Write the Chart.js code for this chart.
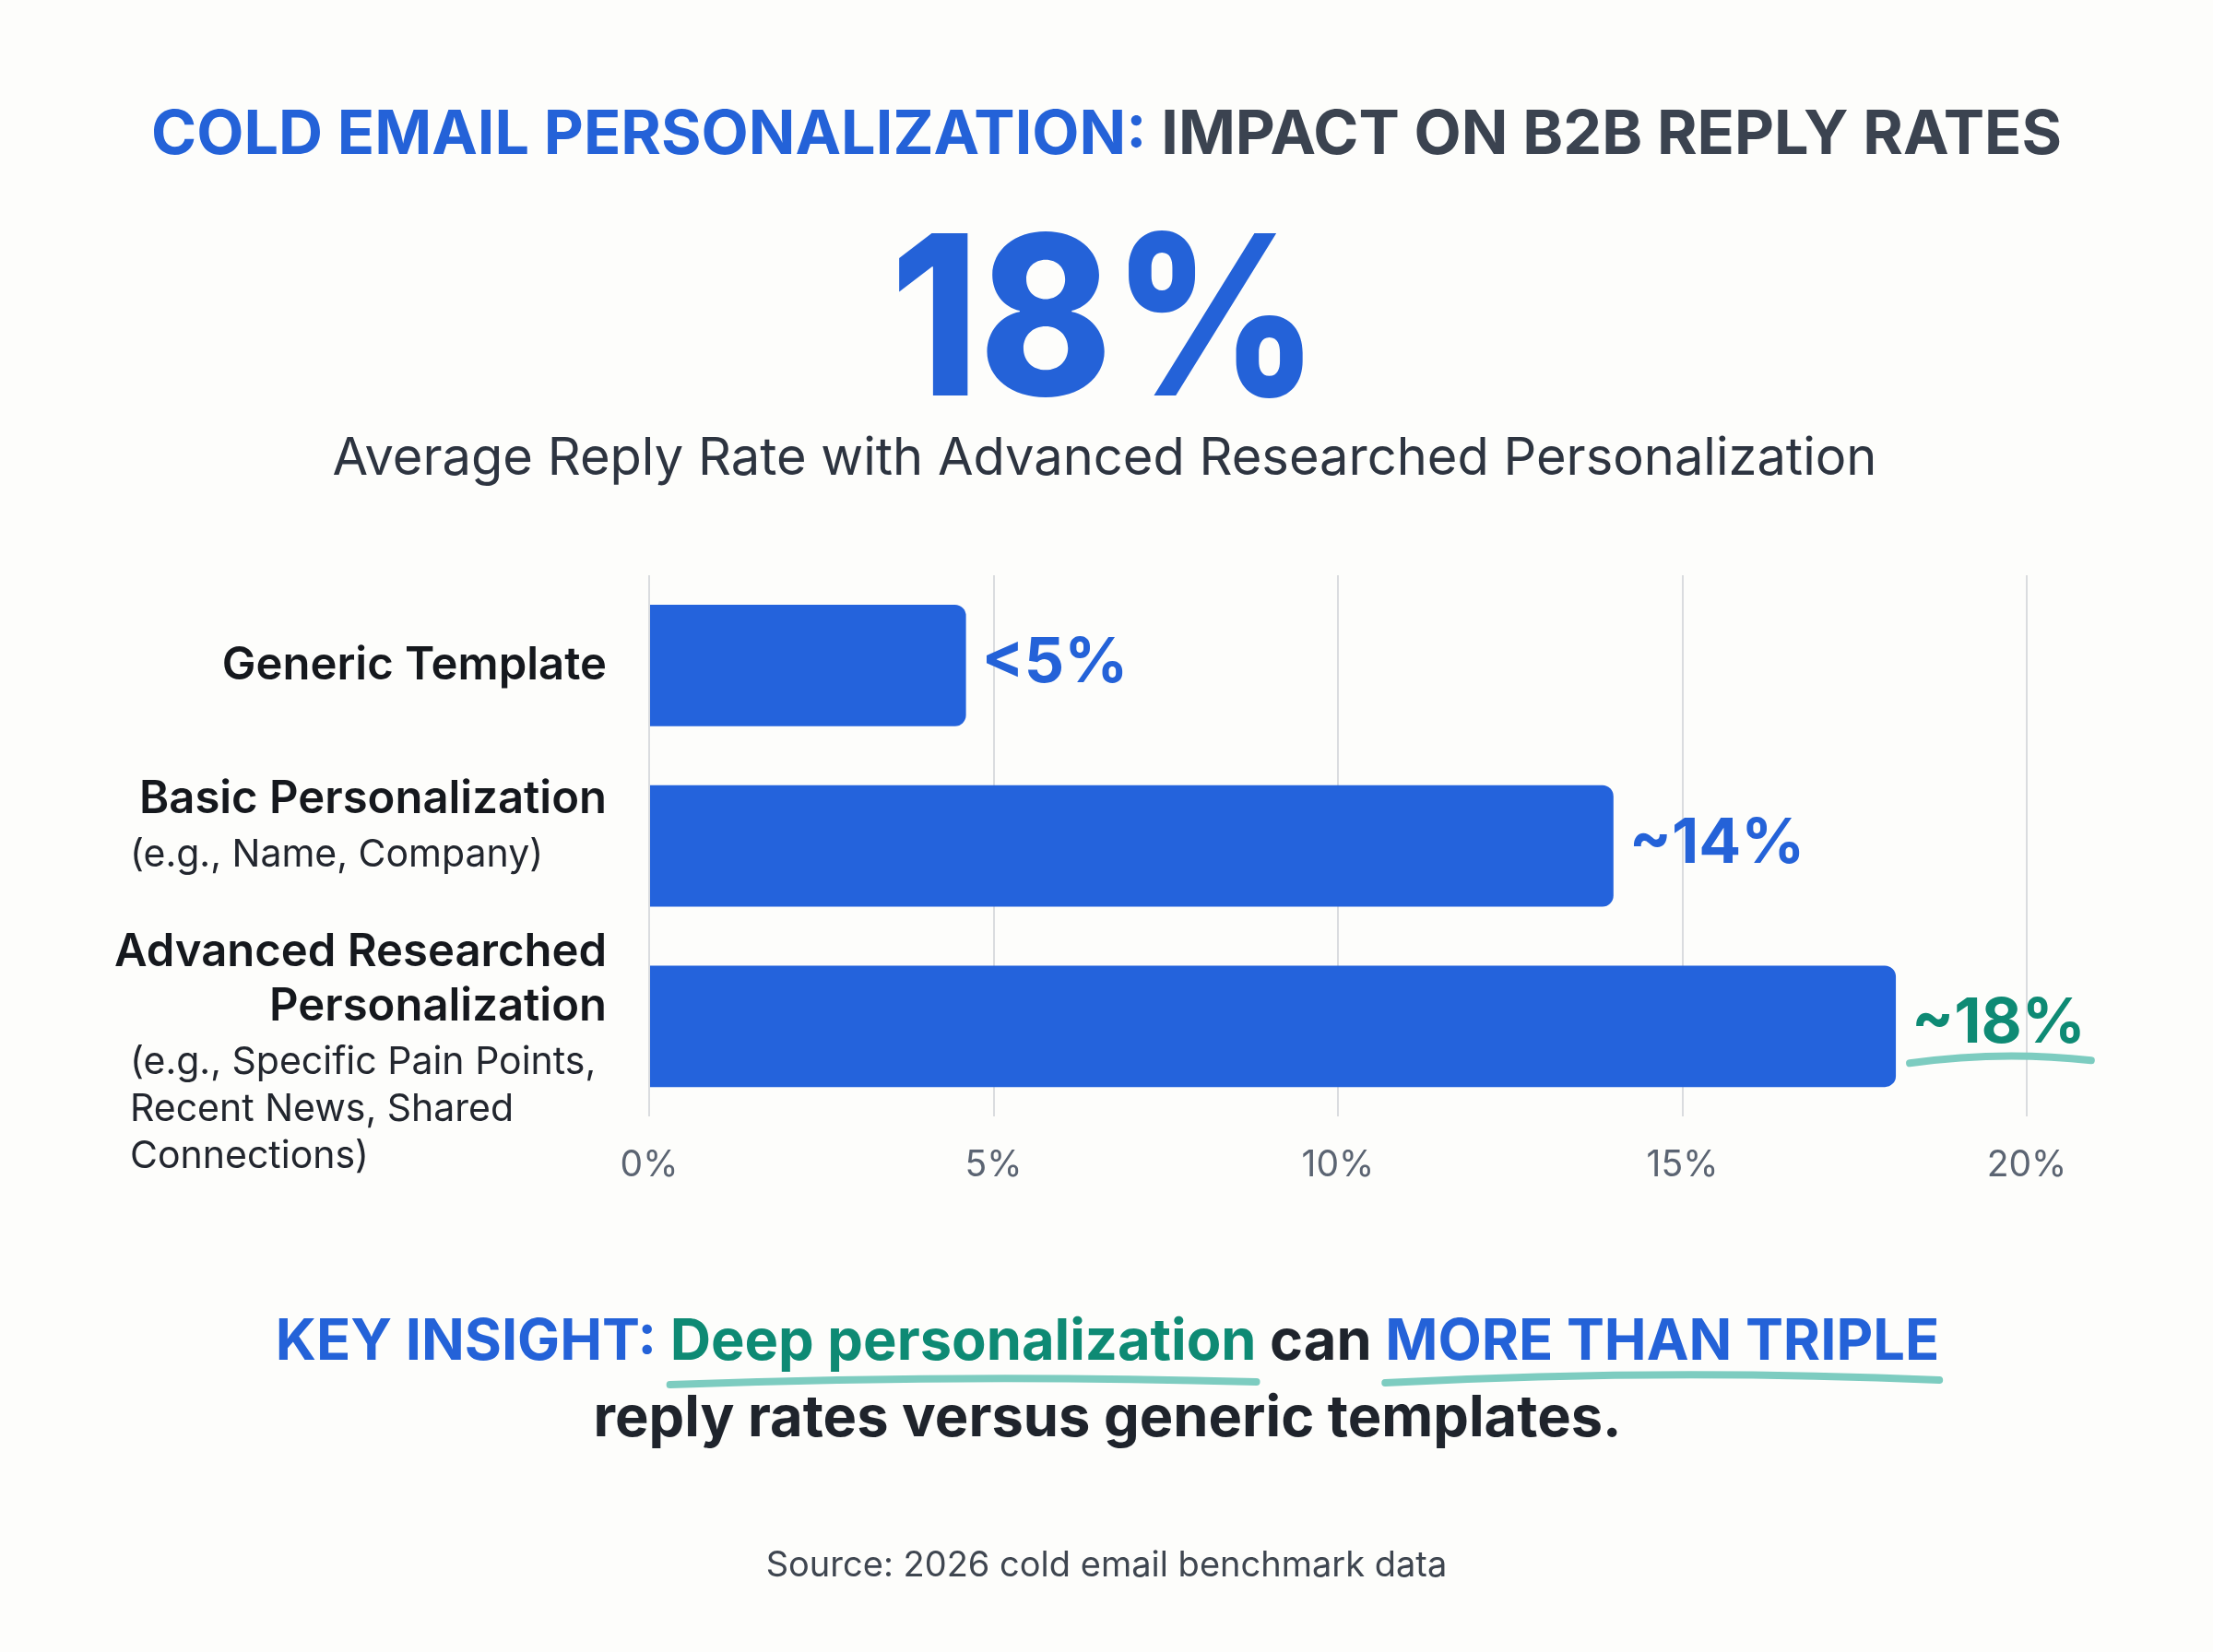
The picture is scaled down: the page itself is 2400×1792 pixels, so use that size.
<!DOCTYPE html>
<html>
<head>
<meta charset="utf-8">
<script src="https://cdn.jsdelivr.net/npm/chart.js@4.4.1/dist/chart.umd.min.js"></script>
<style>
  html, body { margin: 0; padding: 0; background: #fdfdfb; }
  #wrap { width: 2400px; height: 1792px; position: relative; }
</style>
</head>
<body>
<div id="wrap"><canvas id="replyChart"></canvas></div>
<script>
// data
var categories = ['Generic Template', 'Basic Personalization', 'Advanced Researched Personalization'];
var labelLines = [['Generic Template'], ['Basic Personalization'], ['Advanced Researched', 'Personalization']];
var subLines = [[], ['(e.g., Name, Company)'], ['(e.g., Specific Pain Points,', 'Recent News, Shared', 'Connections)']];
var replyRates = [4.6, 14, 18.1];
var valueLabels = ['<5%', '~14%', '~18%'];
var xTicks = [0, 5, 10, 15, 20];

var BLUE = '#2462d8';
var TEAL = '#0e8a74';
var SWASH = '#7dccc0';
var DARK = '#1f242c';

// draws a run of coloured pieces centred on cx, returns x range of each piece
function drawRun(ctx, parts, font, cx, baseline, squeeze) {
  squeeze = squeeze || 1;
  ctx.font = font;
  var total = 0;
  parts.forEach(function(p) { total += ctx.measureText(p.t).width; });
  var x = cx / squeeze - total / 2;
  var spans = [];
  ctx.save();
  ctx.scale(squeeze, 1);
  ctx.textAlign = 'left';
  ctx.textBaseline = 'alphabetic';
  parts.forEach(function(p) {
    var w = ctx.measureText(p.t).width;
    ctx.fillStyle = p.c;
    ctx.fillText(p.t, x, baseline);
    spans.push([x * squeeze, (x + w) * squeeze]);
    x += w;
  });
  ctx.restore();
  return spans;
}

function swash(ctx, x0, x1, y, lift) {
  ctx.save();
  ctx.strokeStyle = SWASH;
  ctx.lineWidth = 8;
  ctx.lineCap = 'round';
  ctx.beginPath();
  ctx.moveTo(x0, y);
  ctx.quadraticCurveTo((x0 + x1) / 2, y - lift * 2, x1, y - 3);
  ctx.stroke();
  ctx.restore();
}

var textPlugin = {
  id: 'texts',
  afterDraw: function(chart) {
    var ctx = chart.ctx;
    var xs = chart.scales.x;
    var ys = chart.scales.y;
    ctx.save();

    // header
    drawRun(ctx, [
      { t: 'COLD EMAIL PERSONALIZATION: ', c: BLUE },
      { t: 'IMPACT ON B2B REPLY RATES', c: '#3b4350' }
    ], '700 66.5px Inter', 1200, 167);
    drawRun(ctx, [{ t: '18%', c: BLUE }], '800 242px Inter', 1198, 429, 0.9);
    drawRun(ctx, [{ t: 'Average Reply Rate with Advanced Researched Personalization', c: '#2d3440' }],
      '400 56px Inter', 1198, 515);

    // category labels
    for (var i = 0; i < categories.length; i++) {
      var yc = ys.getPixelForTick(i);
      var hasSub = subLines[i].length > 0;
      var ly = yc - (hasSub ? 11 : 3);
      var main = labelLines[i];
      var firstMid = ly - (hasSub ? 43 : 0) - (main.length - 1) * 59 / 2;
      ctx.font = '600 49px Inter';
      ctx.fillStyle = '#15181d';
      ctx.textAlign = 'right';
      ctx.textBaseline = 'alphabetic';
      for (var j = 0; j < main.length; j++) {
        ctx.fillText(main[j], xs.left - 46, firstMid + j * 59 + 18);
      }
      var subMid = firstMid + (main.length - 1) * 59 + 61;
      ctx.font = '400 41px Inter';
      ctx.fillStyle = '#22262e';
      ctx.textAlign = 'left';
      for (var k = 0; k < subLines[i].length; k++) {
        ctx.fillText(subLines[i][k], 141, subMid + k * 51 + 15);
      }

      // value label next to bar
      var vx = xs.getPixelForValue(replyRates[i]) + 17;
      var last = i === categories.length - 1;
      ctx.font = '700 68px Inter';
      ctx.fillStyle = last ? TEAL : BLUE;
      ctx.fillText(valueLabels[i], vx, yc + 18);
      if (last) {
        var w = ctx.measureText(valueLabels[i]).width;
        swash(ctx, vx - 2, vx + w + 6, yc + 40, 7);
      }
    }

    // key insight
    var spans = drawRun(ctx, [
      { t: 'KEY INSIGHT: ', c: BLUE },
      { t: 'Deep personalization', c: TEAL },
      { t: ' can ', c: DARK },
      { t: 'MORE THAN TRIPLE', c: BLUE }
    ], '700 61.4px Inter', 1201, 1475);
    swash(ctx, spans[1][0], spans[1][1], 1502, 6);
    swash(ctx, spans[3][0], spans[3][1], 1500, 8);
    drawRun(ctx, [{ t: 'reply rates versus generic templates.', c: DARK }], '700 61.4px Inter', 1201, 1558);

    drawRun(ctx, [{ t: 'Source: 2026 cold email benchmark data', c: '#3f4650' }], '400 38px Inter', 1200, 1710);
    ctx.restore();
  }
};

Chart.defaults.font.family = 'Inter';

var ctx = document.getElementById('replyChart');
var replyChart = new Chart(ctx, {
  type: 'bar',
  data: {
    labels: categories,
    datasets: [{
      label: 'Reply rate',
      data: replyRates,
      backgroundColor: '#2463dc',
      borderRadius: 12,
      borderSkipped: 'start',
      barPercentage: 0.82,
      categoryPercentage: 0.82
    }]
  },
  options: {
    indexAxis: 'y',
    responsive: true,
    maintainAspectRatio: false,
    animation: false,
    layout: { padding: { left: 704, right: 202, top: 624, bottom: 474 } },
    plugins: { legend: { display: false }, tooltip: { enabled: false } },
    scales: {
      x: {
        min: 0,
        max: 20,
        afterBuildTicks: function(scale) {
          scale.ticks = xTicks.map(function(v) { return { value: v }; });
        },
        grid: { color: '#dadcdf', lineWidth: 2, drawTicks: false },
        border: { display: false },
        ticks: {
          padding: 30,
          color: '#5b6472',
          font: { size: 39, weight: '400' },
          callback: function(v) { return v + '%'; }
        }
      },
      y: {
        display: false
      }
    }
  },
  plugins: [textPlugin]
});
</script>
</body>
</html>
